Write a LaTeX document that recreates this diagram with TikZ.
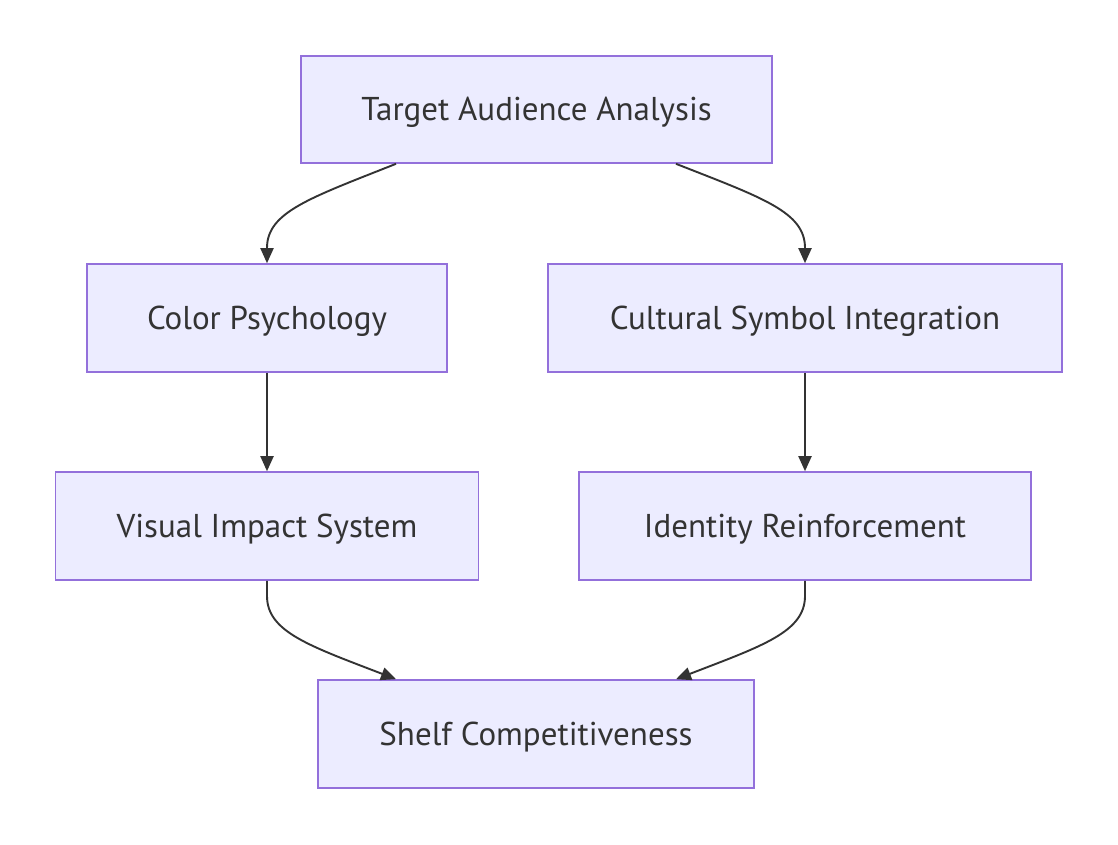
\documentclass[tikz,border=0pt]{standalone}
\usepackage{fontspec}
\setmainfont{PT Sans}
\usetikzlibrary{arrows.meta}
\definecolor{nodefill}{HTML}{ECECFF}
\definecolor{nodeline}{HTML}{9370DB}
\definecolor{txt}{HTML}{333333}
\begin{document}
\begin{tikzpicture}[x=1pt,y=-1pt,
  box/.style={draw=nodeline,fill=nodefill,line width=1.6pt,text=txt,
    font=\fontsize{33}{38}\selectfont,inner sep=0pt,anchor=center,
    text height=24pt,text depth=2pt},
  arr/.style={draw=txt,line width=1.9pt,-{Triangle[length=15pt,width=13pt]}}]
\useasboundingbox (0,0) rectangle (1118,844);
\fill[white] (0,0) rectangle (1118,844);
\node[box,minimum width=471pt,minimum height=107pt] (tgt) at (536.5,109.5) {Target Audience Analysis};
\node[box,minimum width=360pt,minimum height=108pt] (cp) at (267,318) {Color Psychology};
\node[box,minimum width=514pt,minimum height=108pt] (csi) at (805,318) {Cultural Symbol Integration};
\node[box,minimum width=423pt,minimum height=108pt] (vis) at (267,526) {Visual Impact System};
\node[box,minimum width=452pt,minimum height=108pt] (idr) at (805,526) {Identity Reinforcement};
\node[box,minimum width=436pt,minimum height=108pt] (shelf) at (536,734) {Shelf Competitiveness};
\draw[arr] ([xshift=-140.5pt]tgt.south) .. controls (310,198) and (267,212) .. (267,248) -- (cp.north);
\draw[arr] ([xshift=139.5pt]tgt.south) .. controls (763,198) and (805,212) .. (805,248) -- (csi.north);
\draw[arr] (cp.south) -- (vis.north);
\draw[arr] (csi.south) -- (idr.north);
\draw[arr] (vis.south) -- (267,596) .. controls (267,632) and (310,646) .. ([xshift=-140pt]shelf.north);
\draw[arr] (idr.south) -- (805,596) .. controls (805,632) and (762,646) .. ([xshift=140pt]shelf.north);
\end{tikzpicture}
\end{document}
